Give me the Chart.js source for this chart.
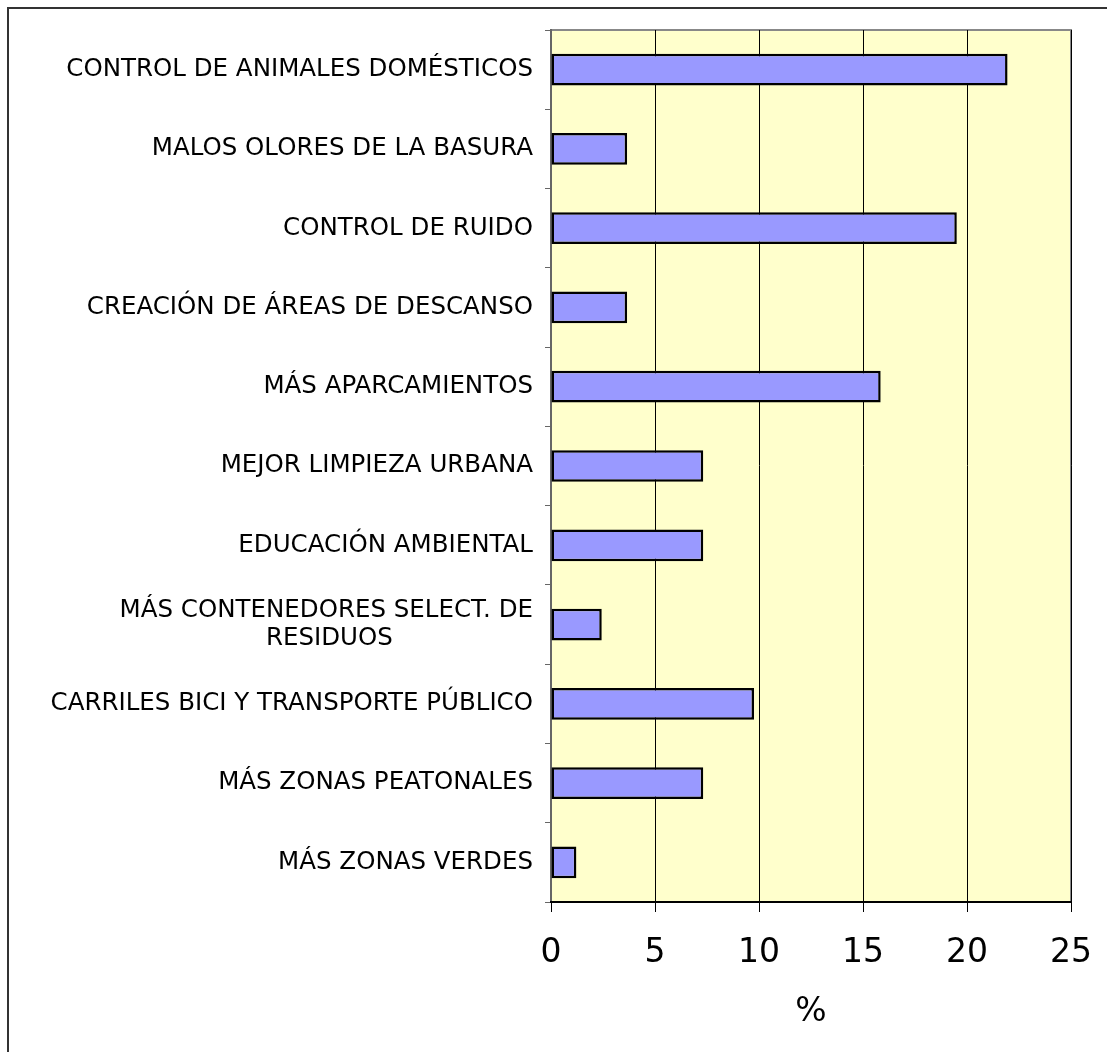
<!DOCTYPE html>
<html>
<head>
<meta charset="utf-8">
<script src="https://cdn.jsdelivr.net/npm/chart.js@4.4.1/dist/chart.umd.min.js"></script>
<style>
  html, body { margin: 0; padding: 0; background: #fff; overflow: hidden; }
  #wrap { position: relative; width: 1107px; height: 1052px; }
  #frame { position: absolute; left: 7px; top: 7px; width: 1300px; height: 1300px;
           border-left: 2px solid #333; border-top: 2px solid #333; }
  canvas { position: absolute; left: 0; top: 0; }
</style>
</head>
<body>
<div id="wrap">
  <div id="frame"></div>
  <canvas id="chart" width="1107" height="1052"></canvas>
</div>
<script>
// categories, top to bottom
var labels = [
  'CONTROL DE ANIMALES DOMÉSTICOS',
  'MALOS OLORES DE LA BASURA',
  'CONTROL DE RUIDO',
  'CREACIÓN DE ÁREAS DE DESCANSO',
  'MÁS APARCAMIENTOS',
  'MEJOR LIMPIEZA URBANA',
  'EDUCACIÓN AMBIENTAL',
  ['MÁS CONTENEDORES SELECT. DE', 'RESIDUOS                  '],
  'CARRILES BICI Y TRANSPORTE PÚBLICO',
  'MÁS ZONAS PEATONALES',
  'MÁS ZONAS VERDES'
];
// % values
var values = [21.95, 3.66, 19.51, 3.66, 15.85, 7.32, 7.32, 2.44, 9.76, 7.32, 1.22];
var xTicks = [0, 5, 10, 15, 20, 25];

var plotBg = {
  id: 'plotBg',
  beforeDraw: function(chart) {
    var a = chart.chartArea, c = chart.ctx;
    c.save();
    c.fillStyle = '#FFFFCC';
    c.fillRect(a.left, a.top, a.right - a.left, a.bottom - a.top);
    c.strokeStyle = '#888888';
    c.lineWidth = 2;
    c.strokeRect(a.left, a.top, a.right - a.left, a.bottom - a.top);
    c.restore();
  }
};

var ctx = document.getElementById('chart').getContext('2d');
var chart = new Chart(ctx, {
  type: 'bar',
  data: {
    labels: labels,
    datasets: [{
      data: values,
      backgroundColor: '#9999FF',
      borderColor: '#000000',
      borderWidth: 2.5,
      borderSkipped: false,
      barPercentage: 0.4,
      categoryPercentage: 1.0
    }]
  },
  options: {
    indexAxis: 'y',
    responsive: false,
    animation: false,
    layout: { padding: { left: 10, top: 30, right: 36, bottom: 0 } },
    plugins: { legend: { display: false }, tooltip: { enabled: false } },
    scales: {
      y: {
        afterFit: function(s) { s.width = 541; },
        grid: { drawOnChartArea: false, offset: true, tickLength: 6, color: '#666666', lineWidth: 1 },
        border: { color: '#666666', width: 2 },
        ticks: {
          color: '#000',
          padding: 12,
          font: { family: 'DejaVu Sans', size: 24.5, lineHeight: 1.15 }
        }
      },
      x: {
        min: 0,
        max: 25,
        afterFit: function(s) { s.height = 150; s.paddingRight = 0; s.paddingLeft = 0; },
        afterBuildTicks: function(s) { s.ticks = xTicks.map(function(v) { return { value: v }; }); },
        grid: { color: '#000000', lineWidth: 1, tickLength: 10 },
        border: { color: '#000000', width: 2 },
        ticks: {
          color: '#000',
          padding: 22,
          font: { family: 'DejaVu Sans', size: 33 }
        },
        title: {
          display: true,
          text: '%',
          color: '#000',
          padding: { top: 6, bottom: 20 },
          font: { family: 'DejaVu Sans', size: 33 }
        }
      }
    }
  },
  plugins: [plotBg]
});
</script>
</body>
</html>
